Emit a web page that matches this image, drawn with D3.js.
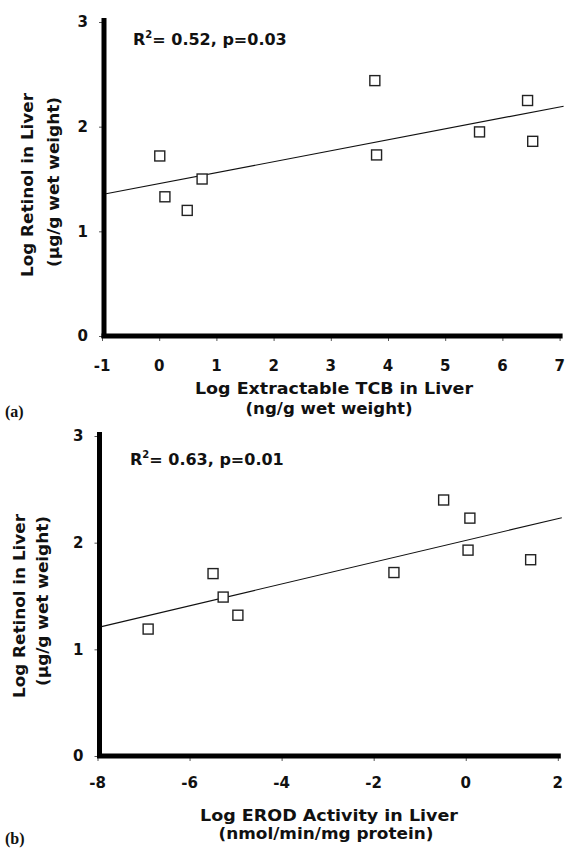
<!DOCTYPE html>
<html>
<head>
<meta charset="utf-8">
<script src="https://cdn.jsdelivr.net/npm/d3@7"></script>
<style>
  body { margin: 0; background: #fff; }
  text { font-family: "DejaVu Sans", "Liberation Sans", Arial, sans-serif; font-weight: bold; fill: #111; }
</style>
</head>
<body>
<div id="chart-wrapper"></div>
<script>
// values
var tcbLog    = [0.01, 0.10, 0.49, 0.75, 3.77, 3.80, 5.60, 6.44, 6.53];
var retinolA  = [1.72, 1.33, 1.20, 1.50, 2.44, 1.73, 1.95, 2.25, 1.86];
var erodLog   = [-6.90, -5.49, -5.27, -4.95, -1.56, -0.48, 0.09, 0.05, 1.41];
var retinolB  = [1.19, 1.71, 1.49, 1.32, 1.72, 2.40, 2.23, 1.93, 1.84];

var xTicksA = [-1, 0, 1, 2, 3, 4, 5, 6, 7];
var xTicksB = [-8, -6, -4, -2, 0, 2];
var yTicks  = [0, 1, 2, 3];

var statsA = ["0.52", "0.03"];
var statsB = ["0.63", "0.01"];

var yTitle   = ["Log Retinol in Liver", "(\u00b5g/g wet weight)"];
var xTitleA  = ["Log Extractable TCB in Liver", "(ng/g wet weight)"];
var xTitleB  = ["Log EROD Activity in Liver", "(nmol/min/mg protein)"];

var width = 566, height = 848;

var svg = d3.select("#chart-wrapper")
  .append("svg")
    .attr("width", width)
    .attr("height", height);

// simple least squares fit
function fit(xs, ys) {
  var mx = d3.mean(xs), my = d3.mean(ys);
  var sxy = d3.sum(xs, (d, i) => (d - mx) * (ys[i] - my));
  var sxx = d3.sum(xs, d => (d - mx) * (d - mx));
  var b = sxy / sxx;
  return { a: my - b * mx, b: b };
}

function drawPanel(p) {
  var x = d3.scaleLinear().domain(p.xDomain).range([p.left, p.right]);
  var y = d3.scaleLinear().domain([0, 3]).range([p.bottom, p.top]);
  var g = svg.append("g");
  var axisX = p.left + 2;

  // small ticks on x axis
  g.append("g")
    .attr("transform", `translate(0,${p.bottom})`)
    .call(d3.axisBottom(x).tickValues(p.xTicks).tickSize(5).tickFormat(""))
    .call(s => s.select(".domain").remove())
    .selectAll("line").attr("stroke", "#555").attr("stroke-width", 1);

  g.selectAll("xlab")
    .data(p.xTicks)
    .enter()
    .append("text")
    .attr("x", d => x(d))
    .attr("y", p.bottom + p.tickOff)
    .attr("text-anchor", "middle")
    .style("font-size", "15px")
    .text(d => d);

  // small ticks on y axis
  g.append("g")
    .attr("transform", `translate(${axisX},0)`)
    .call(d3.axisLeft(y).tickValues(yTicks).tickSize(5).tickFormat(""))
    .call(s => s.select(".domain").remove())
    .selectAll("line").attr("stroke", "#555").attr("stroke-width", 1);

  g.selectAll("ylab")
    .data(yTicks)
    .enter()
    .append("text")
    .attr("x", axisX - 16)
    .attr("y", d => y(d))
    .attr("dy", "0.35em")
    .attr("text-anchor", "end")
    .style("font-size", "15px")
    .text(d => d);

  // thick axis lines
  g.append("line")
    .attr("x1", axisX).attr("x2", axisX)
    .attr("y1", y(3) - 4).attr("y2", p.bottom + 2)
    .attr("stroke", "#000").attr("stroke-width", 5);
  g.append("line")
    .attr("x1", axisX - 2.5).attr("x2", p.right + 3)
    .attr("y1", p.bottom).attr("y2", p.bottom)
    .attr("stroke", "#000").attr("stroke-width", 5);

  // regression line
  var f = fit(p.xs, p.ys);
  var xa = x.invert(axisX + 2), xb = x.invert(p.right + 4);
  g.append("line")
    .attr("x1", x(xa)).attr("y1", y(f.a + f.b * xa))
    .attr("x2", x(xb)).attr("y2", y(f.a + f.b * xb))
    .attr("stroke", "#111").attr("stroke-width", 1.1);

  // open squares
  var s = 10;
  g.selectAll("pts")
    .data(p.xs.map((d, i) => [d, p.ys[i]]))
    .enter()
    .append("rect")
    .attr("x", d => x(d[0]) - s / 2)
    .attr("y", d => y(d[1]) - s / 2)
    .attr("width", s)
    .attr("height", s)
    .attr("fill", "#fff")
    .attr("stroke", "#222")
    .attr("stroke-width", 1.4);

  // R2 annotation
  var t = g.append("text")
    .attr("x", p.statX)
    .attr("y", p.statY)
    .style("font-size", "16px");
  t.append("tspan").text("R");
  t.append("tspan").attr("dy", -7).style("font-size", "10px").text("2");
  t.append("tspan").attr("dy", 7).text(`= ${p.stats[0]}, p=${p.stats[1]}`);

  // axis titles (scan uses a wide face, so stretch to the measured lengths)
  g.selectAll("xt")
    .data(p.xTitle)
    .enter()
    .append("text")
    .attr("x", (d, i) => p.xTitleX[i])
    .attr("y", (d, i) => p.xTitleY[i])
    .attr("text-anchor", "middle")
    .attr("textLength", (d, i) => p.xTitleLen[i])
    .attr("lengthAdjust", "spacingAndGlyphs")
    .style("font-size", p.xTitleSize)
    .text(d => d);

  g.selectAll("yt")
    .data(yTitle)
    .enter()
    .append("text")
    .attr("transform", (d, i) => `translate(${p.yTitleX[i]},${p.yTitleY[i]}) rotate(-90)`)
    .attr("dy", "0.35em")
    .attr("text-anchor", "middle")
    .attr("textLength", (d, i) => p.yTitleLen[i])
    .attr("lengthAdjust", "spacingAndGlyphs")
    .style("font-size", "16px")
    .text(d => d);

  // panel letter
  g.append("text")
    .attr("x", 5)
    .attr("y", p.letterY)
    .style("font-family", "'Liberation Serif', 'Times New Roman', serif")
    .style("font-size", "16px")
    .text(p.letter);
}

drawPanel({
  xs: tcbLog, ys: retinolA, xDomain: [-1, 7], xTicks: xTicksA,
  left: 102, right: 559.6, top: 22, bottom: 336, tickOff: 35,
  stats: statsA, statX: 133, statY: 45,
  xTitle: xTitleA, xTitleX: [334, 329], xTitleY: [394, 414], xTitleLen: [278, 167], xTitleSize: "16px",
  yTitleX: [27, 53], yTitleY: [185, 182], yTitleLen: [184, 170],
  letter: "(a)", letterY: 417
});

drawPanel({
  xs: erodLog, ys: retinolB, xDomain: [-8, 2], xTicks: xTicksB,
  left: 97.5, right: 557.8, top: 436, bottom: 756, tickOff: 31.5,
  stats: statsB, statX: 130, statY: 465,
  xTitle: xTitleB, xTitleX: [329, 326], xTitleY: [820.5, 838.5], xTitleLen: [258, 215], xTitleSize: "15.5px",
  yTitleX: [19, 42], yTitleY: [606, 601], yTitleLen: [184, 170],
  letter: "(b)", letterY: 844
});
</script>
</body>
</html>
